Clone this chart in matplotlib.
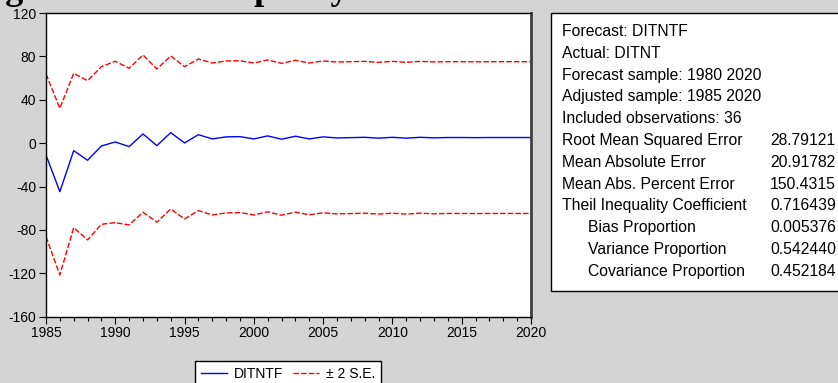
import matplotlib
matplotlib.use("Agg")
import matplotlib.pyplot as plt
from matplotlib.lines import Line2D
from matplotlib.patches import Rectangle
from matplotlib.ticker import MultipleLocator

plt.rcParams['font.family'] = ['Liberation Sans', 'DejaVu Sans']
plt.rcParams['axes.unicode_minus'] = False

years = list(range(1985, 2021))
forecast = [-11.0, -44.7, -6.9, -15.8, -2.6, 1.1, -3.2, 8.5, -2.3, 9.7, 0.2, 7.8,
            3.9, 5.8, 6.0, 3.9, 6.7, 3.6, 6.4, 3.9, 5.8, 4.8, 5.1, 5.4,
            4.6, 5.4, 4.6, 5.4, 4.9, 5.2, 5.2, 5.1, 5.2, 5.2, 5.2, 5.2]
upper = [63.8, 32.1, 64.4, 57.6, 70.5, 75.5, 69.0, 81.3, 68.4, 80.4, 70.5, 77.6,
         73.9, 75.8, 76.0, 73.9, 76.7, 73.6, 76.4, 73.9, 75.8, 74.8, 75.1, 75.4,
         74.5, 75.4, 74.5, 75.4, 74.9, 75.1, 75.1, 75.0, 75.1, 75.1, 75.1, 75.1]
lower = [-86.2, -121.5, -77.9, -89.2, -74.8, -73.3, -75.4, -63.7, -72.9, -60.7, -69.9, -62.2,
         -66.2, -64.3, -64.0, -66.2, -63.3, -66.4, -63.6, -66.1, -64.2, -65.2, -64.9, -64.6,
         -65.4, -64.6, -65.4, -64.6, -65.1, -64.8, -64.8, -64.9, -64.8, -64.8, -64.8, -64.8]

stat_labels = ["Forecast: DITNTF", "Actual: DITNT", "Forecast sample: 1980 2020",
               "Adjusted sample: 1985 2020", "Included observations: 36",
               "Root Mean Squared Error", "Mean Absolute Error", "Mean Abs. Percent Error",
               "Theil Inequality Coefficient", "Bias Proportion", "Variance Proportion",
               "Covariance Proportion"]
stat_values = ["", "", "", "", "", "28.79121", "20.91782", "150.4315", "0.716439",
               "0.005376", "0.542440", "0.452184"]
stat_indent = [0, 0, 0, 0, 0, 0, 0, 0, 0, 1, 1, 1]

W, H = 838, 383
bg = '#d4d4d4'
fig = plt.figure(figsize=(W / 100, H / 100), dpi=100, facecolor=bg)

def fx(px):
    return px / W

def fy(py):
    return 1 - py / H

ax = fig.add_axes([fx(46), fy(316.7), fx(531) - fx(46), fy(13) - fy(316.7)])
ax.set_facecolor('white')
ax.plot(years, forecast, color='#0000ff', lw=1.0)
ax.plot(years, upper, color='#ff0000', lw=1.0, dashes=(4, 1.5))
ax.plot(years, lower, color='#ff0000', lw=1.0, dashes=(4, 1.5))

ax.set_xlim(1985, 2020)
ax.set_ylim(-160, 120)
ax.xaxis.set_major_locator(MultipleLocator(5))
ax.xaxis.set_minor_locator(MultipleLocator(1))
ax.yaxis.set_major_locator(MultipleLocator(40))
ax.tick_params(axis='both', which='major', direction='out', length=5, width=0.8,
               labelsize=10, colors='black', pad=2)
ax.tick_params(axis='x', which='minor', direction='out', length=3, width=0.8)
ax.tick_params(axis='x', pad=2)
for s in ['left', 'bottom', 'top']:
    ax.spines[s].set_color('black')
    ax.spines[s].set_linewidth(1.0)
ax.spines['right'].set_color('#404040')
ax.spines['right'].set_linewidth(2.0)

# Stats box
fig.patches.append(Rectangle((fx(551), fy(290.7)), fx(900) - fx(551), fy(13) - fy(290.7),
                             transform=fig.transFigure, facecolor='white',
                             edgecolor='black', lw=1.0, zorder=1))
y0, dy = 31.5, 21.8
for i, (lab, val, ind) in enumerate(zip(stat_labels, stat_values, stat_indent)):
    yy = y0 + i * dy
    fig.text(fx(561.5 + ind * 26.5), fy(yy), lab, fontsize=11.3, va='center', ha='left', zorder=3)
    if val:
        fig.text(fx(770), fy(yy), val, fontsize=11.3, va='center', ha='left', zorder=3)

# Cut-off title (only descenders visible)
fig.text(fx(-157), fy(-1), "Forecasting Renewable Capacity", fontsize=26, fontweight='bold',
         family=['Liberation Serif', 'DejaVu Serif'], va='baseline', ha='left')

# Legend
handles = [Line2D([], [], color='#0000ff', lw=1.0),
           Line2D([], [], color='#ff0000', lw=1.0, dashes=(4, 1.5))]
leg = fig.legend(handles, ['DITNTF', '± 2 S.E.'], loc='upper left',
                 bbox_to_anchor=(fx(195), fy(361)), ncol=2, frameon=True, fancybox=False,
                 edgecolor='black', facecolor='white', framealpha=1, fontsize=10,
                 borderaxespad=0, borderpad=0.4, handlelength=1.9, handletextpad=0.5,
                 columnspacing=0.7)
leg.get_frame().set_linewidth(1.0)

fig.savefig('out.png', dpi=100, facecolor=bg)
